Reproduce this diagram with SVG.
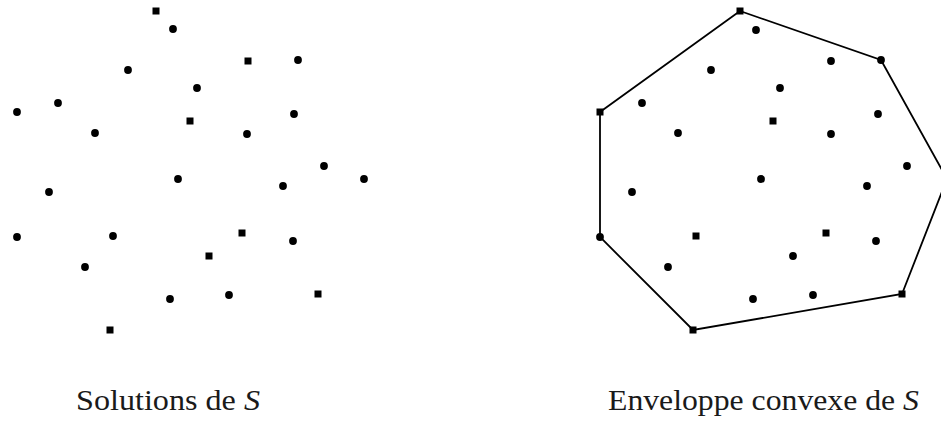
<svg xmlns="http://www.w3.org/2000/svg" xmlns:xlink="http://www.w3.org/1999/xlink" width="941" height="426" viewBox="0 0 941 426">
<style>
.lbl{font-size:29px;fill:#1a1a1a}
.it{font-style:italic}
.hull{fill:none;stroke:#000;stroke-width:1.8;stroke-linejoin:miter}
</style>
<defs>
<circle id="dot" cx="0" cy="0" r="3.9" fill="#000"/>
<rect id="sq" x="-3.5" y="-3.5" width="7" height="7" fill="#000"/>
</defs>
<rect width="941" height="426" fill="#fff"/>
<g id="connectors">
<polygon class="hull" points="740,11 881,60 947,179 902,294 693,330 600,237 600,112"/>
</g>
<g id="left-points">
<use id="l1" xlink:href="#sq" x="156" y="11"/>
<use id="l2" xlink:href="#dot" x="173" y="29"/>
<use id="l3" xlink:href="#dot" x="128" y="70"/>
<use id="l4" xlink:href="#sq" x="248" y="61"/>
<use id="l5" xlink:href="#dot" x="298" y="60"/>
<use id="l6" xlink:href="#dot" x="197" y="88"/>
<use id="l7" xlink:href="#dot" x="58" y="103"/>
<use id="l8" xlink:href="#dot" x="17" y="112"/>
<use id="l9" xlink:href="#dot" x="95" y="133"/>
<use id="l10" xlink:href="#sq" x="190" y="121"/>
<use id="l11" xlink:href="#dot" x="247" y="134"/>
<use id="l12" xlink:href="#dot" x="294" y="114"/>
<use id="l13" xlink:href="#dot" x="324" y="166"/>
<use id="l14" xlink:href="#dot" x="364" y="179"/>
<use id="l15" xlink:href="#dot" x="178" y="179"/>
<use id="l16" xlink:href="#dot" x="49" y="192"/>
<use id="l17" xlink:href="#dot" x="283" y="186"/>
<use id="l18" xlink:href="#dot" x="17" y="237"/>
<use id="l19" xlink:href="#dot" x="113" y="236"/>
<use id="l20" xlink:href="#sq" x="242" y="233"/>
<use id="l21" xlink:href="#dot" x="293" y="241"/>
<use id="l22" xlink:href="#dot" x="85" y="267"/>
<use id="l23" xlink:href="#sq" x="209" y="256"/>
<use id="l24" xlink:href="#dot" x="170" y="299"/>
<use id="l25" xlink:href="#dot" x="229" y="295"/>
<use id="l26" xlink:href="#sq" x="318" y="294"/>
<use id="l27" xlink:href="#sq" x="110" y="330"/>
</g>
<g id="right-points">
<use id="r1" xlink:href="#sq" x="740" y="11"/>
<use id="r2" xlink:href="#dot" x="756" y="30"/>
<use id="r3" xlink:href="#dot" x="881" y="60"/>
<use id="r4" xlink:href="#dot" x="831" y="61"/>
<use id="r5" xlink:href="#dot" x="711" y="70"/>
<use id="r6" xlink:href="#dot" x="780" y="88"/>
<use id="r7" xlink:href="#dot" x="642" y="103"/>
<use id="r8" xlink:href="#sq" x="600" y="112"/>
<use id="r9" xlink:href="#dot" x="678" y="133"/>
<use id="r10" xlink:href="#sq" x="773" y="121"/>
<use id="r11" xlink:href="#dot" x="831" y="134"/>
<use id="r12" xlink:href="#dot" x="878" y="114"/>
<use id="r13" xlink:href="#dot" x="907" y="166"/>
<use id="r14" xlink:href="#dot" x="761" y="179"/>
<use id="r15" xlink:href="#dot" x="632" y="192"/>
<use id="r16" xlink:href="#dot" x="867" y="186"/>
<use id="r17" xlink:href="#dot" x="600" y="237"/>
<use id="r18" xlink:href="#sq" x="696" y="236"/>
<use id="r19" xlink:href="#sq" x="826" y="233"/>
<use id="r20" xlink:href="#dot" x="876" y="241"/>
<use id="r21" xlink:href="#dot" x="668" y="267"/>
<use id="r22" xlink:href="#dot" x="793" y="256"/>
<use id="r23" xlink:href="#dot" x="753" y="299"/>
<use id="r24" xlink:href="#dot" x="813" y="295"/>
<use id="r25" xlink:href="#sq" x="902" y="294"/>
<use id="r26" xlink:href="#sq" x="693" y="330"/>
<use id="r27" xlink:href="#dot" x="947" y="179"/>
</g>
<g id="labels" font-family="Liberation Serif, Times New Roman, serif">
<text class="lbl" x="76" y="410" textLength="184" lengthAdjust="spacingAndGlyphs">Solutions de <tspan class="it">S</tspan></text>
<text class="lbl" x="608" y="410" textLength="311" lengthAdjust="spacingAndGlyphs">Enveloppe convexe de <tspan class="it">S</tspan></text>
</g>
</svg>
